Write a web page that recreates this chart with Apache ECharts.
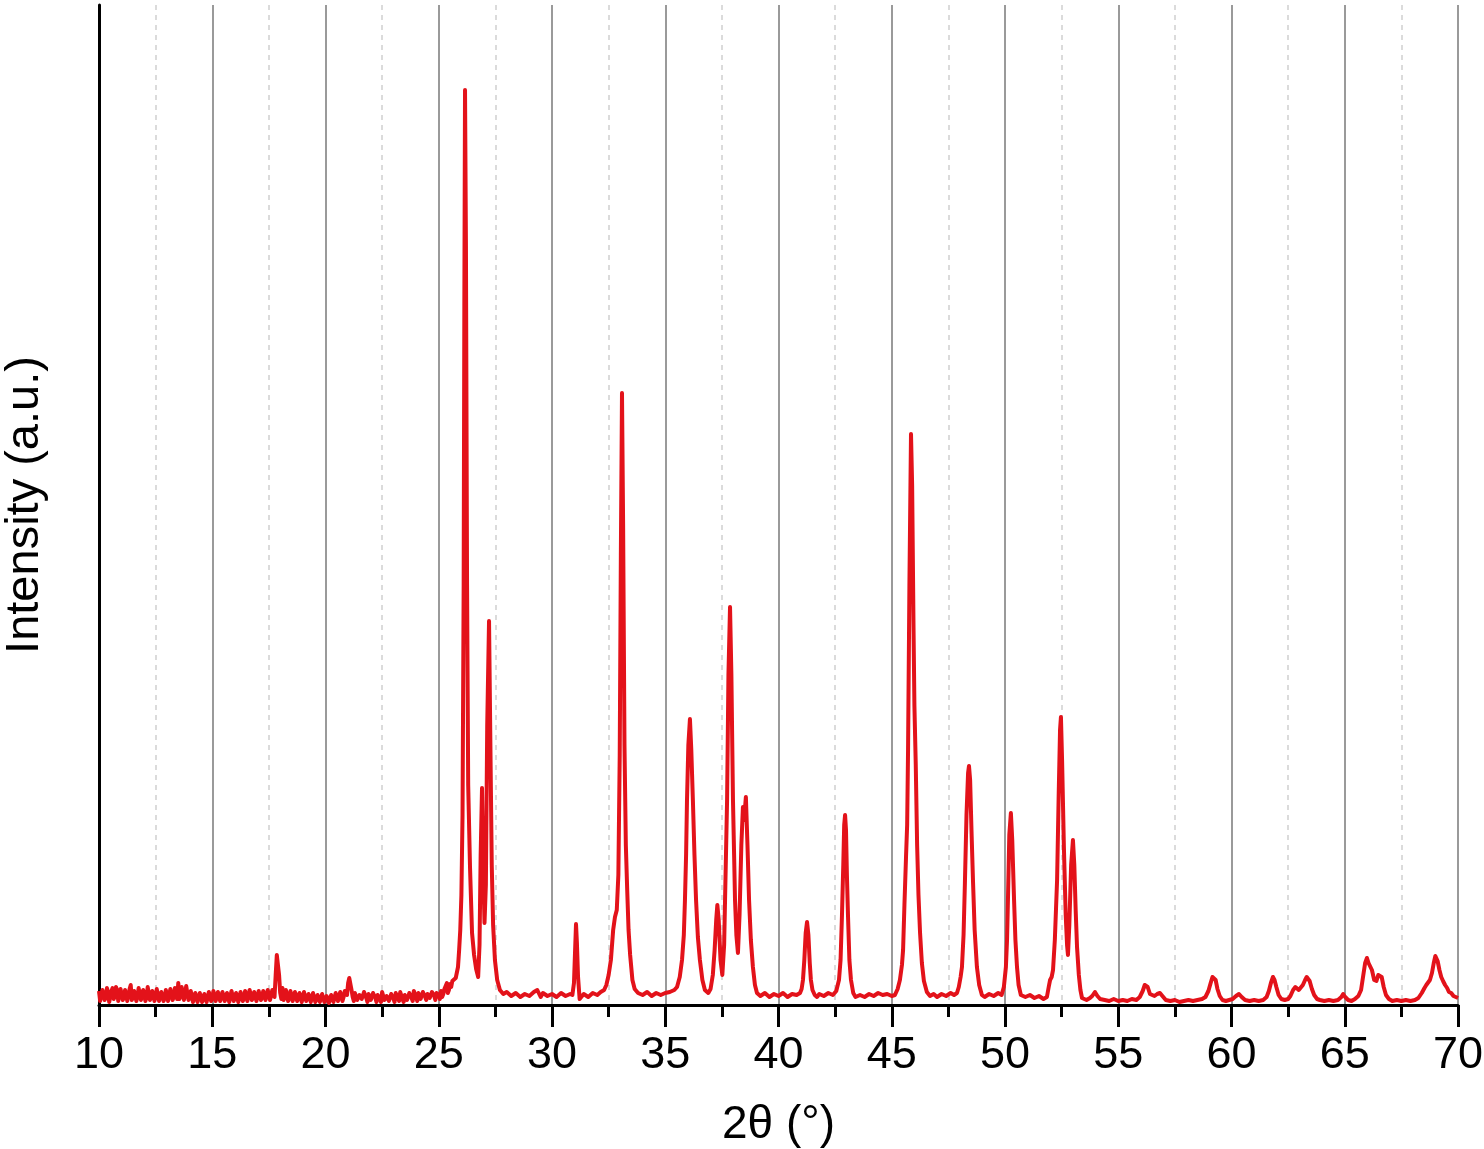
<!DOCTYPE html>
<html>
<head>
<meta charset="utf-8">
<script src="https://cdn.jsdelivr.net/npm/echarts@6/dist/echarts.min.js"></script>
<style>html,body{margin:0;padding:0;background:#fff}#c{width:1484px;height:1149px}</style>
</head>
<body>
<div id="c"></div>
<script>
// X-axis ticks
const xTicks = [10, 15, 20, 25, 30, 35, 40, 45, 50, 55, 60, 65, 70];
const xAxisTitle = '2θ (°)';
const yAxisTitle = 'Intensity (a.u.)';

// Diffraction pattern [2θ, intensity]
const scan10to25 = [
 [10.0,14],[10.05,4],[10.1,6],[10.15,15],[10.2,16],[10.25,5],[10.3,8],[10.35,17],[10.4,13],[10.45,3],[10.5,5],[10.55,14],[10.6,17],[10.65,6],[10.7,9],[10.75,18],[10.8,15],[10.85,4],[10.9,6],[10.95,16],
 [11.0,18],[11.05,5],[11.1,8],[11.15,15],[11.2,14],[11.25,4],[11.3,5],[11.35,16],[11.4,20],[11.45,5],[11.5,7],[11.55,14],[11.6,15],[11.65,4],[11.7,9],[11.75,17],[11.8,17],[11.85,5],[11.9,6],[11.95,15],
 [12.0,16],[12.05,4],[12.1,8],[12.15,18],[12.2,19],[12.25,5],[12.3,7],[12.35,14],[12.4,15],[12.45,4],[12.5,10],[12.55,16],[12.6,16],[12.65,4],[12.7,5],[12.75,13],[12.8,13],[12.85,4],[12.9,7],[12.95,15],
 [13.0,14],[13.05,4],[13.1,6],[13.15,16],[13.2,18],[13.25,5],[13.3,8],[13.35,17],[13.4,15],[13.45,6],[13.5,22],[13.55,6],[13.6,9],[13.65,18],[13.7,20],[13.75,5],[13.8,7],[13.85,19],[13.9,21],[13.95,5],
 [14.0,8],[14.05,14],[14.1,13],[14.15,3],[14.2,5],[14.25,12],[14.3,10],[14.35,3],[14.4,4],[14.45,12],[14.5,11],[14.55,3],[14.6,6],[14.65,11],[14.7,9],[14.75,3],[14.8,4],[14.85,13],[14.9,12],[14.95,4],
 [15.0,7],[15.05,14],[15.1,15],[15.15,4],[15.2,8],[15.25,13],[15.3,12],[15.35,4],[15.4,6],[15.45,13],[15.5,14],[15.55,4],[15.6,7],[15.65,12],[15.7,11],[15.75,3],[15.8,5],[15.85,14],[15.9,13],[15.95,4],
 [16.0,6],[16.05,12],[16.1,10],[16.15,3],[16.2,5],[16.25,13],[16.3,12],[16.35,4],[16.4,7],[16.45,14],[16.5,13],[16.55,4],[16.6,6],[16.65,15],[16.7,14],[16.75,5],[16.8,8],[16.85,13],[16.9,11],[16.95,4],
 [17.0,6],[17.05,14],[17.1,15],[17.15,5],[17.2,8],[17.25,14],[17.3,13],[17.35,5],[17.4,7],[17.45,15],[17.5,16],[17.55,5],[17.6,9],[17.65,15],[17.7,14],[17.75,8],[17.8,30],[17.85,50],
 [17.9,48],[17.95,30],[18.0,12],[18.05,6],[18.1,17],[18.15,5],[18.2,8],[18.25,15],[18.3,14],[18.35,4],[18.4,7],[18.45,14],[18.5,12],[18.55,4],[18.6,6],[18.65,13],[18.7,13],[18.75,4],
 [18.8,8],[18.85,12],[18.9,11],[18.95,3],[19.0,5],[19.05,13],[19.1,12],[19.15,4],[19.2,7],[19.25,11],[19.3,10],[19.35,3],[19.4,5],[19.45,12],[19.5,11],[19.55,3],[19.6,6],[19.65,10],[19.7,9],[19.75,3],
 [19.8,4],[19.85,11],[19.9,10],[19.95,3],[20.0,5],[20.05,9],[20.1,8],[20.15,2],[20.2,4],[20.25,10],[20.3,9],[20.35,3],[20.4,5],[20.45,12],[20.5,11],[20.55,4],[20.6,6],[20.65,13],[20.7,12],[20.75,4],
 [20.8,8],[20.85,14],[20.9,14],[20.95,10],[21.0,22],[21.05,27],[21.1,25],[21.15,15],[21.2,8],[21.25,4],[21.3,12],[21.35,11],[21.4,5],[21.45,3],[21.5,10],[21.55,11],
 [21.6,6],[21.65,4],[21.7,13],[21.75,12],[21.8,7],[21.85,3],[21.9,11],[21.95,12],[22.0,5],[22.05,3],[22.1,12],[22.15,11],[22.2,7],[22.25,3],[22.3,10],[22.35,12],[22.4,6],[22.45,3],[22.5,13],[22.55,11],
 [22.6,5],[22.65,3],[22.7,9],[22.75,10],[22.8,4],[22.85,3],[22.9,11],[22.95,12],[23.0,6],[23.05,3],[23.1,12],[23.15,13],[23.2,7],[23.25,4],[23.3,13],[23.35,12],[23.4,6],[23.45,3],[23.5,10],[23.55,12],
 [23.6,5],[23.65,4],[23.7,12],[23.75,13],[23.8,7],[23.85,4],[23.9,14],[23.95,12],[24.0,8],[24.05,4],[24.1,12],[24.15,14],[24.2,6],[24.25,4],[24.3,13],[24.35,12],[24.4,8],[24.45,5],[24.5,11],[24.55,13],
 [24.6,7],[24.65,5],[24.7,13],[24.75,12],[24.8,9],[24.85,5],[24.9,12],[24.95,14],[25.0,10]
];
const scan25to31 = [
 [25.05,6],[25.1,14],[25.15,8],[25.2,11],[25.25,16],[25.3,18],[25.36,22],[25.4,12],[25.45,15],[25.5,21],[25.55,18],[25.6,24],[25.65,22],[25.75,27],[25.85,38],
 [25.9,55],[25.95,75],[26.0,110],[26.05,190],[26.1,420],[26.13,700],[26.16,915],[26.2,760],[26.25,420],
 [26.3,220],[26.38,138],[26.47,72],[26.56,50],[26.65,36],[26.74,28],[26.8,60],[26.85,150],[26.91,217],
 [26.96,140],[27.02,82],[27.08,120],[27.14,280],[27.22,384],[27.28,260],[27.34,140],[27.4,80],
 [27.48,45],[27.58,25],[27.7,15],[27.85,11],[28.0,13],[28.2,9],[28.4,12],[28.6,8],[28.8,11],
 [29.0,9],[29.2,13],[29.35,15],[29.5,8],[29.6,12],[29.8,9],[30.0,11],[30.2,8],[30.4,12],[30.6,9],
 [30.8,11],[30.9,10],[30.97,22],[31.02,55],[31.06,81],[31.1,62],[31.15,28],[31.22,6],[31.3,8]
];
const scan31to40 = [
 [31.4,11],[31.6,8],[31.8,12],[32.0,10],[32.15,13],[32.3,15],[32.4,20],[32.5,30],[32.6,45],
 [32.7,75],[32.78,88],[32.86,95],[32.93,130],[32.99,250],[33.04,450],[33.09,612],[33.14,480],
 [33.2,260],[33.26,160],[33.32,115],[33.38,75],[33.45,50],[33.55,25],[33.65,16],[33.8,12],
 [34.0,10],[34.2,13],[34.4,9],[34.6,12],[34.8,10],[35.0,12],[35.2,13],[35.4,15],[35.52,18],
 [35.64,28],[35.74,45],[35.82,70],[35.87,105],[35.92,150],[35.96,205],[36.02,260],[36.09,286],
 [36.15,255],[36.22,205],[36.29,150],[36.36,105],[36.44,68],[36.53,45],[36.64,25],[36.75,15],
 [36.9,12],[37.0,16],[37.1,30],[37.18,55],[37.25,85],[37.3,100],[37.36,85],[37.44,45],[37.52,30],
 [37.56,28],[37.6,60],[37.64,105],[37.69,160],[37.73,205],[37.79,330],[37.86,398],[37.92,330],
 [37.99,205],[38.04,150],[38.08,105],[38.14,70],[38.21,52],[38.28,90],[38.36,160],[38.43,198],
 [38.48,185],[38.56,208],[38.63,160],[38.7,105],[38.78,65],[38.87,38],[38.96,20],[39.05,12],
 [39.2,9],[39.4,12],[39.6,8],[39.8,11]
];
const scan40to54 = [
 [40.0,9],[40.2,12],[40.4,8],[40.6,11],[40.8,10],[40.95,12],[41.02,16],[41.08,25],[41.14,45],
 [41.2,72],[41.26,83],[41.32,70],[41.38,42],[41.43,25],[41.5,15],[41.6,10],[41.7,8],[41.8,11],
 [42.0,9],[42.2,12],[42.4,10],[42.55,14],[42.67,25],[42.74,45],[42.8,88],[42.86,140],[42.9,180],
 [42.94,190],[42.98,175],[43.02,130],[43.07,88],[43.13,45],[43.2,25],[43.3,12],[43.4,8],[43.6,10],
 [43.8,8],[44.0,11],[44.2,9],[44.4,12],[44.6,10],[44.8,11],[45.0,9],[45.14,10],[45.26,16],
 [45.36,25],[45.45,40],[45.5,55],[45.56,100],[45.63,148],[45.68,180],[45.72,255],[45.78,420],
 [45.85,571],[45.9,520],[45.96,380],[46.0,300],[46.06,240],[46.12,160],[46.18,110],[46.25,72],
 [46.33,42],[46.42,24],[46.55,13],[46.69,9],[46.85,11],[47.0,8],[47.2,11],[47.4,9],[47.6,12],
 [47.75,10],[47.88,12],[47.96,18],[48.04,28],[48.1,38],[48.17,70],[48.23,122],[48.3,190],
 [48.37,232],[48.41,239],[48.46,225],[48.52,175],[48.59,122],[48.66,75],[48.76,38],[48.86,20],
 [48.98,10],[49.1,8],[49.3,11],[49.5,9],[49.7,12],[49.85,10],[49.95,18],[50.04,38],[50.09,65],
 [50.13,105],[50.19,170],[50.26,192],[50.32,165],[50.4,105],[50.46,65],[50.53,38],[50.6,20],
 [50.7,10],[50.9,8],[51.1,10],[51.3,7],[51.5,9],[51.7,6],[51.85,8],[51.93,18],[51.99,25],
 [52.06,28],[52.12,35],[52.2,65],[52.3,125],[52.37,210],[52.43,275],[52.47,288],[52.52,245],
 [52.6,158],[52.68,90],[52.74,60],[52.78,50],[52.84,80],[52.92,140],[53.0,165],[53.06,140],
 [53.12,95],[53.18,58],[53.26,30],[53.33,15],[53.4,7],[53.5,6],[53.6,5],[53.75,7],[53.85,9],
 [53.97,13],[54.08,9],[54.2,6]
];
const scan54to70 = [
 [54.4,5],[54.6,4],[54.8,6],[55.0,4],[55.2,5],[55.4,4],[55.6,6],[55.8,5],[55.95,8],[56.08,14],
 [56.17,20],[56.23,22],[56.3,18],[56.4,11],[56.5,10],[56.6,9],[56.72,11],[56.84,12],[56.95,9],
 [57.1,5],[57.3,4],[57.5,5],[57.7,3],[57.9,4],[58.1,5],[58.3,4],[58.5,5],[58.7,6],[58.85,8],
 [58.98,14],[59.08,22],[59.16,28],[59.23,29],[59.3,25],[59.38,16],[59.48,9],[59.6,5],[59.75,4],
 [59.9,5],[60.05,6],[60.2,9],[60.33,11],[60.45,8],[60.6,5],[60.8,4],[61.0,5],[61.2,4],[61.4,5],
 [61.55,8],[61.65,14],[61.74,22],[61.83,28],[61.9,25],[61.98,18],[62.08,10],[62.2,6],[62.35,5],
 [62.5,6],[62.6,9],[62.72,15],[62.82,18],[62.89,17],[62.97,15],[63.05,16],[63.15,20],[63.25,25],
 [63.32,28],[63.38,28],[63.45,24],[63.55,16],[63.65,10],[63.78,6],[63.9,5],[64.1,4],[64.3,5],
 [64.5,4],[64.7,5],[64.85,8],[64.93,11],[65.02,8],[65.15,5],[65.3,4],[65.45,6],[65.6,9],
 [65.72,15],[65.82,30],[65.9,42],[65.98,47],[66.05,42],[66.12,43],[66.2,35],[66.3,25],[66.4,24],
 [66.48,30],[66.56,32],[66.63,28],[66.72,18],[66.82,10],[66.95,6],[67.1,4],[67.3,5],[67.5,4],
 [67.7,5],[67.9,4],[68.1,5],[68.25,7],[68.4,12],[68.52,17],[68.6,20],[68.68,22],[68.76,25],
 [68.85,32],[68.93,42],[69.0,49],[69.05,50],[69.1,44],[69.18,35],[69.26,28],[69.34,24],
 [69.43,20],[69.52,17],[69.6,13],[69.7,12],[69.8,9],[69.9,8],[70.0,7]
];

const pattern = [].concat(scan10to25, scan25to31, scan31to40, scan40to54, scan54to70);

const chart = echarts.init(document.getElementById('c'), null, {renderer: 'canvas'});
const font = '"Liberation Sans", Arial, Helvetica, sans-serif';
chart.setOption({
  animation: false,
  backgroundColor: '#ffffff',
  grid: {left: 99, right: 26, top: 5, bottom: 144, containLabel: false, outerBoundsMode: 'none'},
  xAxis: {
    type: 'value',
    min: xTicks[0],
    max: xTicks[xTicks.length - 1],
    interval: 5,
    name: xAxisTitle,
    nameLocation: 'middle',
    nameGap: 97,
    nameTextStyle: {fontFamily: font, fontSize: 46, color: '#000'},
    axisLine: {show: true, onZero: false, lineStyle: {color: '#000', width: 3}},
    axisTick: {show: true, inside: false, length: 22, lineStyle: {color: '#000', width: 3}},
    minorTick: {show: true, splitNumber: 2, length: 12, lineStyle: {color: '#000', width: 3}},
    axisLabel: {show: true, margin: 28, fontFamily: font, fontSize: 45, color: '#000', hideOverlap: false},
    splitLine: {show: true, lineStyle: {color: '#9a9a9a', width: 2, type: 'solid'}},
    minorSplitLine: {show: true, lineStyle: {color: '#cfcfcf', width: 1.5, type: [5, 5]}}
  },
  yAxis: {
    type: 'value',
    min: 0,
    max: 1000,
    name: yAxisTitle,
    nameLocation: 'middle',
    nameGap: 50,
    nameTextStyle: {fontFamily: font, fontSize: 47, color: '#000'},
    axisLine: {show: true, lineStyle: {color: '#000', width: 3}},
    axisTick: {show: false},
    axisLabel: {show: false},
    splitLine: {show: false}
  },
  series: [{
    type: 'line',
    data: pattern,
    showSymbol: false,
    symbol: 'none',
    smooth: false,
    lineStyle: {color: '#e3121a', width: 4, join: 'round'},
    z: 5
  }]
});
</script>
</body>
</html>
